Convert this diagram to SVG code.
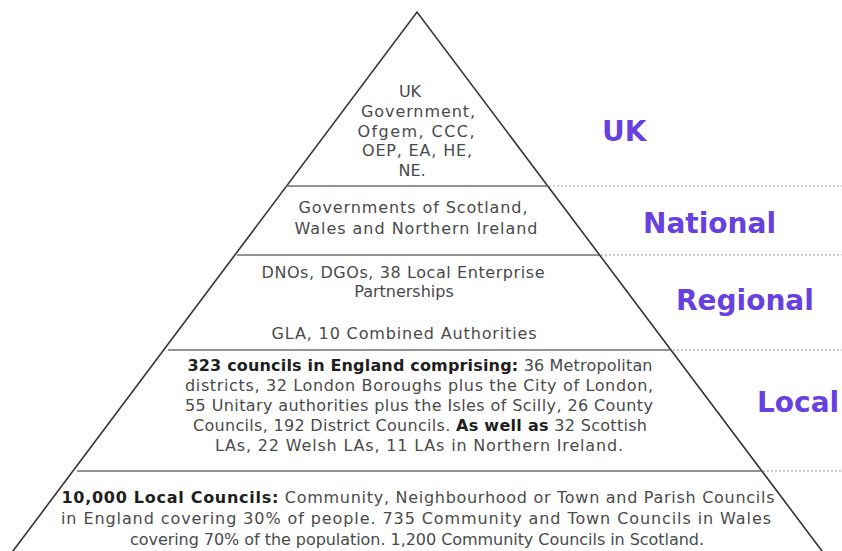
<svg xmlns="http://www.w3.org/2000/svg" width="842" height="551" viewBox="0 0 842 551">
  <style>
    .t{font-family:"DejaVu Sans","Liberation Sans",sans-serif;font-size:16px;fill:#4a4a4a;text-anchor:middle}
    .b{font-weight:bold;fill:#1e1e1e}
    .lbl{font-family:"DejaVu Sans","Liberation Sans",sans-serif;font-weight:bold;font-size:28px;fill:#6641e0}
    .edge{fill:none;stroke:#333;stroke-width:1.6}
    .tier{stroke:#6e6e6e;stroke-width:1.5}
    .guide{stroke:#9a9a9a;stroke-width:1;stroke-dasharray:2 2}
  </style>
  <rect width="842" height="551" fill="#fff"/>

  <!-- pyramid outline, tier dividers and dotted guides to the labels -->
  <g id="connectors">
    <polyline class="edge" points="10,555 417,12 825,555"/>
    <line class="tier" x1="286" y1="186" x2="548" y2="186"/>
    <line class="tier" x1="237" y1="255" x2="599" y2="255"/>
    <line class="tier" x1="168" y1="350" x2="671" y2="350"/>
    <line class="tier" x1="77" y1="471" x2="761" y2="471"/>
    <line class="guide" x1="549" y1="186" x2="842" y2="186"/>
    <line class="guide" x1="601" y1="255" x2="842" y2="255"/>
    <line class="guide" x1="673" y1="350" x2="842" y2="350"/>
    <line class="guide" x1="763" y1="471" x2="842" y2="471"/>
  </g>

  <g id="tier-uk">
    <text class="t" x="410" y="97">UK</text>
    <text class="t" x="418" y="117" textLength="114">Government,</text>
    <text class="t" x="416" y="137" textLength="117">Ofgem, CCC,</text>
    <text class="t" x="417" y="156" textLength="110">OEP, EA, HE,</text>
    <text class="t" x="412" y="176">NE.</text>
    <text class="lbl" x="602" y="141">UK</text>
  </g>

  <g id="tier-national">
    <text class="t" x="413" y="213" textLength="229">Governments of Scotland,</text>
    <text class="t" x="416" y="234" textLength="243">Wales and Northern Ireland</text>
    <text class="lbl" x="643" y="233">National</text>
  </g>

  <g id="tier-regional">
    <text class="t" x="403" y="278" textLength="283">DNOs, DGOs, 38 Local Enterprise</text>
    <text class="t" x="404" y="297">Partnerships</text>
    <text class="t" x="404" y="339" textLength="265">GLA, 10 Combined Authorities</text>
    <text class="lbl" x="676" y="310">Regional</text>
  </g>

  <g id="tier-local">
    <text class="t" x="420" y="371" textLength="465"><tspan class="b">323 councils in England comprising:</tspan> 36 Metropolitan</text>
    <text class="t" x="419" y="391" textLength="468">districts, 32 London Boroughs plus the City of London,</text>
    <text class="t" x="419" y="411" textLength="468">55 Unitary authorities plus the Isles of Scilly, 26 County</text>
    <text class="t" x="420" y="431" textLength="454">Councils, 192 District Councils. <tspan class="b">As well as</tspan> 32 Scottish</text>
    <text class="t" x="419" y="451" textLength="408">LAs, 22 Welsh LAs, 11 LAs in Northern Ireland.</text>
    <text class="lbl" x="757" y="412">Local</text>
  </g>

  <g id="tier-community">
    <text class="t" x="418" y="503" textLength="713"><tspan class="b">10,000 Local Councils:</tspan> Community, Neighbourhood or Town and Parish Councils</text>
    <text class="t" x="416" y="524" textLength="710">in England covering 30% of people. 735 Community and Town Councils in Wales</text>
    <text class="t" x="417" y="545" textLength="574">covering 70% of the population. 1,200 Community Councils in Scotland.</text>
  </g>
</svg>
